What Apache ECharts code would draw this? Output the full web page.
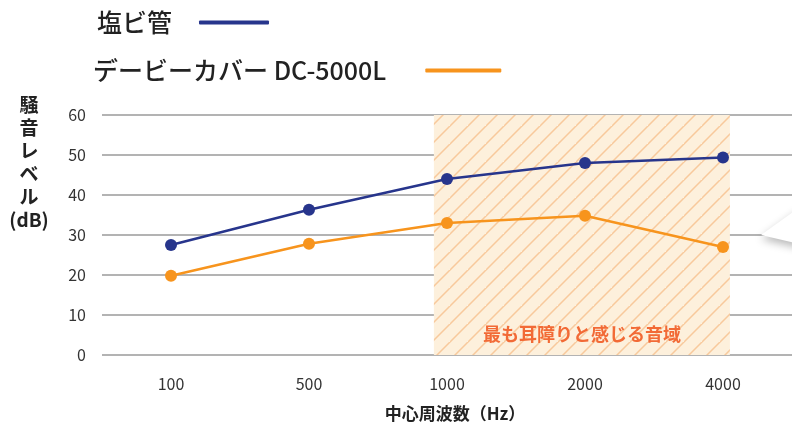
<!DOCTYPE html>
<html><head><meta charset="utf-8">
<script src="https://cdn.jsdelivr.net/npm/echarts@6/dist/echarts.min.js"></script>
<style>html,body{margin:0;padding:0;background:#fff}#c{width:792px;height:427px}</style>
</head><body><div id="c"></div>
<script>
const categories = ['100','500','1000','2000','4000'];
const pvcValues = [27.5, 36.3, 44, 48, 49.4];
const coverValues = [19.8, 27.8, 33, 34.8, 27];
const seriesNames = ['塩ビ管', 'デービーカバー DC-5000L'];
const bandRange = [1.905, 4.05];
const bandLabel = '最も耳障りと感じる音域';

const FONT = '"Noto Sans CJK JP", "Noto Sans", sans-serif';

function hatch() {
  const s = 18;
  const c = document.createElement('canvas');
  c.width = s; c.height = s;
  const g = c.getContext('2d');
  g.fillStyle = '#fdf0dc';
  g.fillRect(0, 0, s, s);
  g.strokeStyle = '#f8c99c';
  g.lineWidth = 1.5;
  g.beginPath();
  g.moveTo(-2, s + 2); g.lineTo(s + 2, -2);
  g.moveTo(-2 - s, s + 2); g.lineTo(2, -2);
  g.moveTo(s - 2, 2 * s + 2); g.lineTo(2 * s + 2, s - 2);
  g.stroke();
  return c;
}

const chart = echarts.init(document.getElementById('c'));
chart.setOption({
  animation: false,
  textStyle: { fontFamily: FONT },
  grid: { left: 102, right: 0, top: 115, bottom: 72 },
  legend: [
    { data: [seriesNames[0]], left: 92, top: 5, align: 'right', itemWidth: 70, itemHeight: 4,
      icon: 'roundRect',
      textStyle: { fontSize: 25, fontWeight: 500, color: '#222', fontFamily: FONT, padding: [0, 22, 0, 0] } },
    { data: [seriesNames[1]], left: 88, top: 53, align: 'right', itemWidth: 76, itemHeight: 4,
      icon: 'roundRect',
      textStyle: { fontSize: 25, fontWeight: 500, color: '#222', fontFamily: FONT, padding: [0, 34, 0, 0] } }
  ],
  xAxis: [
    { type: 'category', data: categories, boundaryGap: true,
      axisLine: { show: false }, axisTick: { show: false },
      axisLabel: { color: '#333', fontSize: 16, margin: 21, fontFamily: FONT },
      name: '中心周波数（Hz）', nameLocation: 'middle', nameGap: 50,
      nameTextStyle: { fontSize: 17, fontWeight: 'bold', color: '#222', fontFamily: FONT, padding: [0, 0, 0, 16] } },
    { type: 'value', min: -0.5, max: 4.5, show: false }
  ],
  yAxis: {
    type: 'value', min: 0, max: 60, interval: 10,
    axisLine: { show: false }, axisTick: { show: false },
    axisLabel: { color: '#333', fontSize: 16, margin: 16, fontFamily: FONT },
    splitLine: { lineStyle: { color: '#b3b3b3', width: 2 } }
  },
  graphic: [
    { type: 'text', x: 29, y: 93, style: {
        text: '騒\n音\nレ\nベ\nル\n(dB)', align: 'center', lineHeight: 23,
        fontSize: 19, fontWeight: 'bold', fill: '#222', fontFamily: FONT } },
    { type: 'polygon', z: 100,
      shape: { points: [[761, 235], [800, 207], [800, 244]] },
      style: { fill: '#ffffff', shadowBlur: 8, shadowColor: 'rgba(0,0,0,0.28)', shadowOffsetY: 4 } }
  ],
  series: [
    { type: 'line', xAxisIndex: 1, data: [], silent: true, z: 0,
      markArea: { silent: true,
        itemStyle: { color: { image: hatch(), repeat: 'repeat' } },
        label: { show: true, position: 'insideBottom', distance: 12, color: '#f26a36',
          fontSize: 18, fontWeight: 'bold', fontFamily: FONT },
        data: [[{ name: bandLabel, xAxis: bandRange[0], yAxis: 60 }, { xAxis: bandRange[1], yAxis: 0 }]] } },
    { name: seriesNames[0], type: 'line', data: pvcValues, color: '#27358c',
      symbol: 'circle', symbolSize: 12, lineStyle: { width: 2.5 }, z: 5 },
    { name: seriesNames[1], type: 'line', data: coverValues, color: '#f7941d',
      symbol: 'circle', symbolSize: 12, lineStyle: { width: 2.5 }, z: 5 }
  ]
});
</script></body></html>
